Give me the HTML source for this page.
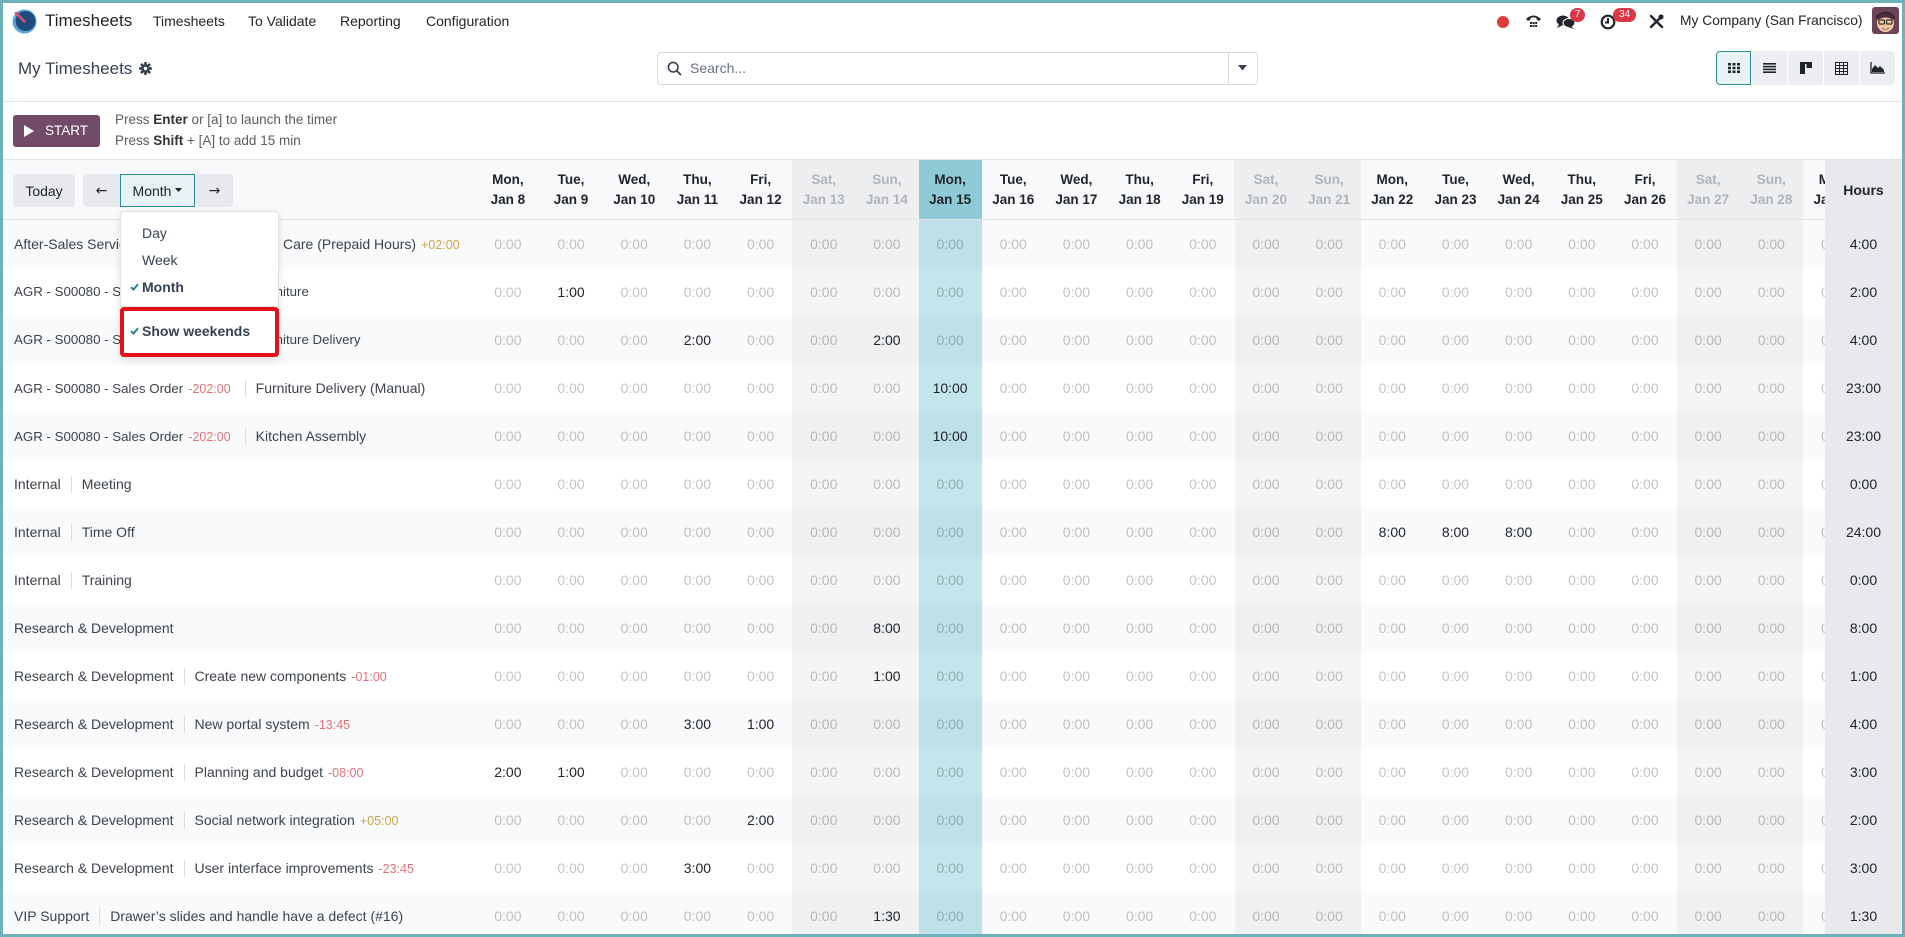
<!DOCTYPE html>
<html><head><meta charset="utf-8">
<style>
*{box-sizing:border-box;margin:0;padding:0}
html,body{width:1905px;height:937px;overflow:hidden;background:#fff}
body{position:relative;font-family:"Liberation Sans",Arial,sans-serif;color:#374151}
.a{position:absolute}
.frame{position:absolute;left:0;top:0;width:1905px;height:937px;border:3px solid #6cb2b8;z-index:100;pointer-events:none}
.nav{font-size:14px;color:#212529;top:12px;line-height:18px}
.badge{position:absolute;background:#dc3545;color:#fff;font-size:10px;line-height:14px;height:14px;border-radius:7px;text-align:center}
.vbtn{position:absolute;top:51px;height:34px;width:35px;background:#eceef1;display:flex;align-items:center;justify-content:center}
.btn{position:absolute;top:174px;height:33px;background:#e7e9ed;color:#212529;font-size:14px;display:flex;align-items:center;justify-content:center}
.hdr{position:absolute;left:476.3px;top:160px;height:59px;display:flex}
.hc{width:63.18px;flex:none;text-align:center;font-size:13.5px;font-weight:bold;color:#212529;line-height:20px;padding-top:9.5px;background:#f8f9fa}
.hc.we{background:#eceef0;color:#b1b5ba}
.hc.td{background:#8ecbd6}
.rowbg{position:absolute;left:0;width:1905px;height:48px}
.odd{background:#f9fafb}
.ovl{position:absolute;top:219px;height:718px;width:63.18px}
.we2{background:rgba(20,20,40,0.045)}
.td2{background:rgba(40,160,185,0.28)}
.r{position:absolute;left:476.3px;height:48px;display:flex}
.r span{width:63.18px;flex:none;text-align:center;line-height:48px;font-size:14px;color:rgba(0,0,0,0.24)}
.r span.v{color:#212529}
.lbl{position:absolute;left:14px;height:48px;line-height:48px;font-size:14px;color:#3d434a;white-space:nowrap}
.lbl.agr{font-size:13.3px}
.sep{display:inline-block;width:1px;height:17px;background:#d9dbde;margin:0 10px;vertical-align:middle;position:relative;top:-1px}
.neg{color:#df7379;font-size:12.5px;margin-left:5px}
.pos{color:#cfa44a;font-size:12.5px;margin-left:5px}
.hours{position:absolute;left:1825px;top:160px;width:80px;height:777px;background:#e8e9ec;z-index:5}
.hv{position:absolute;left:0;width:77px;text-align:center;font-size:14px;color:#212529;line-height:48px;height:48px}
.dd{position:absolute;left:120px;top:211px;width:159px;height:146px;background:#fff;border:1px solid #dfe2e6;border-radius:4px;box-shadow:0 3px 8px rgba(0,0,0,0.12);z-index:20}
.di{position:absolute;left:21px;font-size:14px;color:#374151;line-height:20px}
.chk{position:absolute;left:9px}
</style></head><body>
<div class="frame"></div>

<!-- Navbar -->
<svg class="a" style="left:12px;top:9px" width="25" height="25" viewBox="0 0 25 25">
<circle cx="12.5" cy="12.5" r="12" fill="#5aa3d6"/>
<circle cx="13.5" cy="12" r="10" fill="#1e4d7b"/>
<line x1="12.5" y1="12.5" x2="4" y2="4" stroke="#e8496b" stroke-width="2.5" stroke-linecap="round"/>
</svg>
<div class="a" style="left:45px;top:10px;font-size:17px;color:#212529;line-height:22px">Timesheets</div>
<div class="a nav" style="left:153px">Timesheets</div>
<div class="a nav" style="left:248px">To Validate</div>
<div class="a nav" style="left:340px">Reporting</div>
<div class="a nav" style="left:426px">Configuration</div>

<div class="a" style="left:1497px;top:16px;width:12px;height:12px;border-radius:6px;background:#dc3c3c"></div>
<svg class="a" style="left:1525px;top:13px" width="17" height="17" viewBox="0 0 17 17">
<path d="M1 6 Q8.5 -1 16 6 L14 8 L11.5 6.5 L11.5 5 Q8.5 3.5 5.5 5 L5.5 6.5 L3 8 Z" fill="#212529"/>
<rect x="5" y="9" width="2" height="2" fill="#212529"/><rect x="7.6" y="9" width="2" height="2" fill="#212529"/><rect x="10.2" y="9" width="2" height="2" fill="#212529"/>
<rect x="5" y="12" width="2" height="2" fill="#212529"/><rect x="7.6" y="12" width="2" height="2" fill="#212529"/><rect x="10.2" y="12" width="2" height="2" fill="#212529"/>
</svg>
<svg class="a" style="left:1556px;top:14px" width="20" height="16" viewBox="0 0 20 16">
<ellipse cx="7" cy="6.5" rx="6.5" ry="5" fill="#212529"/><path d="M3 10 L1 14 L7 11 Z" fill="#212529"/>
<ellipse cx="13" cy="9" rx="6" ry="4.5" fill="#212529" stroke="#fff" stroke-width="1"/><path d="M15 12 L18 15 L12 13 Z" fill="#212529"/>
</svg>
<div class="badge" style="left:1570px;top:8px;width:15px">7</div>
<svg class="a" style="left:1600px;top:14px" width="16" height="16" viewBox="0 0 16 16">
<circle cx="8" cy="8" r="6.3" fill="none" stroke="#212529" stroke-width="2.2"/><path d="M8 4 V8.5 H5" fill="none" stroke="#212529" stroke-width="2"/>
</svg>
<div class="badge" style="left:1613px;top:8px;width:23px">34</div>
<svg class="a" style="left:1649px;top:14px" width="15" height="15" viewBox="0 0 15 15">
<path d="M2 2 L13 13" stroke="#212529" stroke-width="2.4" stroke-linecap="round"/>
<path d="M13 2 L2 13" stroke="#212529" stroke-width="2.4" stroke-linecap="round"/>
<circle cx="12" cy="3" r="2.5" fill="#212529"/>
</svg>
<div class="a" style="left:1680px;top:12px;font-size:13.8px;color:#212529;line-height:18px">My Company (San Francisco)</div>
<svg class="a" style="left:1872px;top:7px" width="27" height="27" viewBox="0 0 27 27">
<rect width="27" height="27" rx="3" fill="#6d4457"/>
<path d="M4 9 Q13.5 0 23 9 L23 12 L4 12 Z" fill="#3a2430"/>
<ellipse cx="13.5" cy="16" rx="8.5" ry="9" fill="#f2c9a0"/>
<path d="M5 10 Q13.5 3 22 10 L21 13 Q13.5 8 6 13 Z" fill="#4a2e3b"/>
<rect x="7" y="13" width="5.5" height="4" rx="1" fill="none" stroke="#333" stroke-width="1.2"/>
<rect x="14.5" y="13" width="5.5" height="4" rx="1" fill="none" stroke="#333" stroke-width="1.2"/>
<path d="M10 21 Q13.5 23.5 17 21" fill="#fff" stroke="#8a3b3b" stroke-width="0.8"/>
</svg>

<!-- Control panel -->
<div class="a" style="left:18px;top:58px;font-size:17px;color:#374151;line-height:22px">My Timesheets</div>
<svg class="a" style="left:139px;top:62px" width="13" height="13" viewBox="0 0 13 13">
<g fill="#374151"><circle cx="6.5" cy="6.5" r="4.3"/>
<rect x="5.2" y="0" width="2.6" height="13" rx="0.6"/>
<rect x="0" y="5.2" width="13" height="2.6" rx="0.6"/>
<rect x="5.2" y="0" width="2.6" height="13" rx="0.6" transform="rotate(45 6.5 6.5)"/>
<rect x="5.2" y="0" width="2.6" height="13" rx="0.6" transform="rotate(-45 6.5 6.5)"/></g>
<circle cx="6.5" cy="6.5" r="1.7" fill="#fff"/>
</svg>

<div class="a" style="left:657px;top:52px;width:601px;height:33px;border:1px solid #d8dadd;border-radius:4px"></div>
<div class="a" style="left:1228px;top:53px;width:1px;height:31px;background:#d8dadd"></div>
<svg class="a" style="left:667px;top:61px" width="15" height="15" viewBox="0 0 15 15">
<circle cx="6.2" cy="6.2" r="4.8" fill="none" stroke="#374151" stroke-width="1.6"/><line x1="9.7" y1="9.7" x2="13.5" y2="13.5" stroke="#374151" stroke-width="1.8" stroke-linecap="round"/>
</svg>
<div class="a" style="left:690px;top:59px;font-size:14px;color:#6c737d;line-height:18px">Search...</div>
<svg class="a" style="left:1238px;top:65px" width="9" height="6" viewBox="0 0 9 6"><path d="M0 0 H9 L4.5 5.5 Z" fill="#374151"/></svg>

<div class="vbtn" style="left:1716px;background:#e8f3f4;border:1px solid #2a8b93;border-radius:4px 0 0 4px">
<svg width="12" height="10" viewBox="0 0 12 10"><g fill="#212529"><rect x="0" y="0" width="3" height="2.5"/><rect x="4.5" y="0" width="3" height="2.5"/><rect x="9" y="0" width="3" height="2.5"/><rect x="0" y="3.75" width="3" height="2.5"/><rect x="4.5" y="3.75" width="3" height="2.5"/><rect x="9" y="3.75" width="3" height="2.5"/><rect x="0" y="7.5" width="3" height="2.5"/><rect x="4.5" y="7.5" width="3" height="2.5"/><rect x="9" y="7.5" width="3" height="2.5"/></g></svg></div>
<div class="vbtn" style="left:1752px">
<svg width="13" height="10" viewBox="0 0 13 10"><g fill="#212529"><rect y="0" width="13" height="1.6"/><rect y="2.8" width="13" height="1.6"/><rect y="5.6" width="13" height="1.6"/><rect y="8.4" width="13" height="1.6"/></g></svg></div>
<div class="vbtn" style="left:1788px">
<svg width="12" height="12" viewBox="0 0 12 12"><g fill="#212529"><rect x="0" y="0" width="5" height="12"/><rect x="5" y="0" width="7" height="2"/><rect x="6.5" y="0" width="5.5" height="6"/></g></svg></div>
<div class="vbtn" style="left:1824px">
<svg width="13" height="13" viewBox="0 0 13 13"><g fill="none" stroke="#212529" stroke-width="1"><rect x="0.5" y="0.5" width="12" height="12"/><line x1="0.5" y1="3.5" x2="12.5" y2="3.5"/><line x1="0.5" y1="6.5" x2="12.5" y2="6.5"/><line x1="0.5" y1="9.5" x2="12.5" y2="9.5"/><line x1="4.5" y1="0.5" x2="4.5" y2="12.5"/><line x1="8.5" y1="0.5" x2="8.5" y2="12.5"/></g></svg></div>
<div class="vbtn" style="left:1860px;width:35px;border-radius:0 4px 4px 0">
<svg width="15" height="12" viewBox="0 0 15 12"><path d="M1 0 V11 H15" fill="none" stroke="#212529" stroke-width="1.3"/><path d="M2 10 L2 7 L5 3 L8 6 L10 4 L14 8 L14 10 Z" fill="#212529"/></svg></div>

<div class="a" style="left:0;top:101px;width:1905px;height:1px;background:#e0e3e6"></div>

<!-- Timer -->
<div class="a" style="left:13px;top:115px;width:87px;height:32px;background:#714b67;border-radius:3px;color:#fff;font-size:13.5px;line-height:32px">
<svg class="a" style="left:11px;top:10px" width="10" height="12" viewBox="0 0 10 12"><path d="M0 0 L10 6 L0 12 Z" fill="#fff"/></svg>
<span class="a" style="left:32px;top:0">START</span></div>
<div class="a" style="left:115px;top:110px;font-size:13.5px;line-height:20px;color:#5c5c5c">Press <b style="color:#333">Enter</b> or [a] to launch the timer</div>
<div class="a" style="left:115px;top:131px;font-size:13.5px;line-height:20px;color:#5c5c5c">Press <b style="color:#333">Shift</b> + [A] to add 15 min</div>

<!-- Grid header background -->
<div class="a" style="left:0;top:159px;width:1905px;height:61px;background:#f8f9fa;border-top:1px solid #e2e5e8;border-bottom:1px solid #e2e5e8"></div>

<div class="btn" style="left:13px;width:62px;border-radius:4px">Today</div>
<div class="btn" style="left:83px;width:37px;border-radius:4px 0 0 4px;font-family:'DejaVu Sans',sans-serif;font-size:14px">←</div>
<div class="btn" style="left:120px;width:75px;background:#e6f2f3;border:1px solid #2a8b93">Month<svg style="margin-left:4px" width="7" height="5" viewBox="0 0 7 5"><path d="M0 0 H7 L3.5 4 Z" fill="#212529"/></svg></div>
<div class="btn" style="left:196px;width:37px;border-radius:0 4px 4px 0;font-family:'DejaVu Sans',sans-serif;font-size:14px">→</div>

<!-- Row backgrounds -->
<div class="rowbg odd" style="top:220px"></div>
<div class="rowbg" style="top:268px"></div>
<div class="rowbg odd" style="top:316px"></div>
<div class="rowbg" style="top:364px"></div>
<div class="rowbg odd" style="top:412px"></div>
<div class="rowbg" style="top:460px"></div>
<div class="rowbg odd" style="top:508px"></div>
<div class="rowbg" style="top:556px"></div>
<div class="rowbg odd" style="top:604px"></div>
<div class="rowbg" style="top:652px"></div>
<div class="rowbg odd" style="top:700px"></div>
<div class="rowbg" style="top:748px"></div>
<div class="rowbg odd" style="top:796px"></div>
<div class="rowbg" style="top:844px"></div>
<div class="rowbg odd" style="top:892px"></div>

<!-- Column overlays -->
<div class="ovl we2" style="left:792.2px;top:220px"></div>
<div class="ovl we2" style="left:855.4px;top:220px"></div>
<div class="ovl td2" style="left:918.6px;top:220px"></div>
<div class="ovl we2" style="left:1234.5px;top:220px"></div>
<div class="ovl we2" style="left:1297.6px;top:220px"></div>
<div class="ovl we2" style="left:1676.7px;top:220px"></div>
<div class="ovl we2" style="left:1739.9px;top:220px"></div>

<!-- Header dates -->
<div class="hdr">
<div class="hc">Mon,<br>Jan 8</div><div class="hc">Tue,<br>Jan 9</div><div class="hc">Wed,<br>Jan 10</div><div class="hc">Thu,<br>Jan 11</div><div class="hc">Fri,<br>Jan 12</div><div class="hc we">Sat,<br>Jan 13</div><div class="hc we">Sun,<br>Jan 14</div><div class="hc td">Mon,<br>Jan 15</div><div class="hc">Tue,<br>Jan 16</div><div class="hc">Wed,<br>Jan 17</div><div class="hc">Thu,<br>Jan 18</div><div class="hc">Fri,<br>Jan 19</div><div class="hc we">Sat,<br>Jan 20</div><div class="hc we">Sun,<br>Jan 21</div><div class="hc">Mon,<br>Jan 22</div><div class="hc">Tue,<br>Jan 23</div><div class="hc">Wed,<br>Jan 24</div><div class="hc">Thu,<br>Jan 25</div><div class="hc">Fri,<br>Jan 26</div><div class="hc we">Sat,<br>Jan 27</div><div class="hc we">Sun,<br>Jan 28</div><div class="hc">Mon,<br>Jan 29</div>
</div>

<!-- Row labels -->
<div class="lbl" style="top:220px">After-Sales Services<span class="sep"></span>Field</div>
<div class="lbl" style="top:220px;left:283px">Care (Prepaid Hours)<span class="pos">+02:00</span></div>
<div class="lbl agr" style="top:268px">AGR - S00080 - Sales Order<span class="neg">-202:00</span><span class="sep" style="margin-left:14px"></span>Furniture</div>
<div class="lbl agr" style="top:316px">AGR - S00080 - Sales Order<span class="neg">-202:00</span><span class="sep" style="margin-left:14px"></span>Furniture Delivery</div>
<div class="lbl agr" style="top:364px">AGR - S00080 - Sales Order<span class="neg">-202:00</span><span class="sep" style="margin-left:14px"></span><span style="font-size:14px">Furniture Delivery (Manual)</span></div>
<div class="lbl agr" style="top:412px">AGR - S00080 - Sales Order<span class="neg">-202:00</span><span class="sep" style="margin-left:14px"></span><span style="font-size:14px">Kitchen Assembly</span></div>
<div class="lbl" style="top:460px">Internal<span class="sep"></span>Meeting</div>
<div class="lbl" style="top:508px">Internal<span class="sep"></span>Time Off</div>
<div class="lbl" style="top:556px">Internal<span class="sep"></span>Training</div>
<div class="lbl" style="top:604px">Research &amp; Development</div>
<div class="lbl" style="top:652px">Research &amp; Development<span class="sep"></span>Create new components<span class="neg">-01:00</span></div>
<div class="lbl" style="top:700px">Research &amp; Development<span class="sep"></span>New portal system<span class="neg">-13:45</span></div>
<div class="lbl" style="top:748px">Research &amp; Development<span class="sep"></span>Planning and budget<span class="neg">-08:00</span></div>
<div class="lbl" style="top:796px">Research &amp; Development<span class="sep"></span>Social network integration<span class="pos">+05:00</span></div>
<div class="lbl" style="top:844px">Research &amp; Development<span class="sep"></span>User interface improvements<span class="neg">-23:45</span></div>
<div class="lbl" style="top:892px">VIP Support<span class="sep"></span>Drawer’s slides and handle have a defect (#16)</div>

<!-- Row cells -->
<div class="r" style="top:220px"><span>0:00</span><span>0:00</span><span>0:00</span><span>0:00</span><span>0:00</span><span>0:00</span><span>0:00</span><span>0:00</span><span>0:00</span><span>0:00</span><span>0:00</span><span>0:00</span><span>0:00</span><span>0:00</span><span>0:00</span><span>0:00</span><span>0:00</span><span>0:00</span><span>0:00</span><span>0:00</span><span>0:00</span><span>0:00</span></div>
<div class="r" style="top:268px"><span>0:00</span><span class="v">1:00</span><span>0:00</span><span>0:00</span><span>0:00</span><span>0:00</span><span>0:00</span><span>0:00</span><span>0:00</span><span>0:00</span><span>0:00</span><span>0:00</span><span>0:00</span><span>0:00</span><span>0:00</span><span>0:00</span><span>0:00</span><span>0:00</span><span>0:00</span><span>0:00</span><span>0:00</span><span>0:00</span></div>
<div class="r" style="top:316px"><span>0:00</span><span>0:00</span><span>0:00</span><span class="v">2:00</span><span>0:00</span><span>0:00</span><span class="v">2:00</span><span>0:00</span><span>0:00</span><span>0:00</span><span>0:00</span><span>0:00</span><span>0:00</span><span>0:00</span><span>0:00</span><span>0:00</span><span>0:00</span><span>0:00</span><span>0:00</span><span>0:00</span><span>0:00</span><span>0:00</span></div>
<div class="r" style="top:364px"><span>0:00</span><span>0:00</span><span>0:00</span><span>0:00</span><span>0:00</span><span>0:00</span><span>0:00</span><span class="v">10:00</span><span>0:00</span><span>0:00</span><span>0:00</span><span>0:00</span><span>0:00</span><span>0:00</span><span>0:00</span><span>0:00</span><span>0:00</span><span>0:00</span><span>0:00</span><span>0:00</span><span>0:00</span><span>0:00</span></div>
<div class="r" style="top:412px"><span>0:00</span><span>0:00</span><span>0:00</span><span>0:00</span><span>0:00</span><span>0:00</span><span>0:00</span><span class="v">10:00</span><span>0:00</span><span>0:00</span><span>0:00</span><span>0:00</span><span>0:00</span><span>0:00</span><span>0:00</span><span>0:00</span><span>0:00</span><span>0:00</span><span>0:00</span><span>0:00</span><span>0:00</span><span>0:00</span></div>
<div class="r" style="top:460px"><span>0:00</span><span>0:00</span><span>0:00</span><span>0:00</span><span>0:00</span><span>0:00</span><span>0:00</span><span>0:00</span><span>0:00</span><span>0:00</span><span>0:00</span><span>0:00</span><span>0:00</span><span>0:00</span><span>0:00</span><span>0:00</span><span>0:00</span><span>0:00</span><span>0:00</span><span>0:00</span><span>0:00</span><span>0:00</span></div>
<div class="r" style="top:508px"><span>0:00</span><span>0:00</span><span>0:00</span><span>0:00</span><span>0:00</span><span>0:00</span><span>0:00</span><span>0:00</span><span>0:00</span><span>0:00</span><span>0:00</span><span>0:00</span><span>0:00</span><span>0:00</span><span class="v">8:00</span><span class="v">8:00</span><span class="v">8:00</span><span>0:00</span><span>0:00</span><span>0:00</span><span>0:00</span><span>0:00</span></div>
<div class="r" style="top:556px"><span>0:00</span><span>0:00</span><span>0:00</span><span>0:00</span><span>0:00</span><span>0:00</span><span>0:00</span><span>0:00</span><span>0:00</span><span>0:00</span><span>0:00</span><span>0:00</span><span>0:00</span><span>0:00</span><span>0:00</span><span>0:00</span><span>0:00</span><span>0:00</span><span>0:00</span><span>0:00</span><span>0:00</span><span>0:00</span></div>
<div class="r" style="top:604px"><span>0:00</span><span>0:00</span><span>0:00</span><span>0:00</span><span>0:00</span><span>0:00</span><span class="v">8:00</span><span>0:00</span><span>0:00</span><span>0:00</span><span>0:00</span><span>0:00</span><span>0:00</span><span>0:00</span><span>0:00</span><span>0:00</span><span>0:00</span><span>0:00</span><span>0:00</span><span>0:00</span><span>0:00</span><span>0:00</span></div>
<div class="r" style="top:652px"><span>0:00</span><span>0:00</span><span>0:00</span><span>0:00</span><span>0:00</span><span>0:00</span><span class="v">1:00</span><span>0:00</span><span>0:00</span><span>0:00</span><span>0:00</span><span>0:00</span><span>0:00</span><span>0:00</span><span>0:00</span><span>0:00</span><span>0:00</span><span>0:00</span><span>0:00</span><span>0:00</span><span>0:00</span><span>0:00</span></div>
<div class="r" style="top:700px"><span>0:00</span><span>0:00</span><span>0:00</span><span class="v">3:00</span><span class="v">1:00</span><span>0:00</span><span>0:00</span><span>0:00</span><span>0:00</span><span>0:00</span><span>0:00</span><span>0:00</span><span>0:00</span><span>0:00</span><span>0:00</span><span>0:00</span><span>0:00</span><span>0:00</span><span>0:00</span><span>0:00</span><span>0:00</span><span>0:00</span></div>
<div class="r" style="top:748px"><span class="v">2:00</span><span class="v">1:00</span><span>0:00</span><span>0:00</span><span>0:00</span><span>0:00</span><span>0:00</span><span>0:00</span><span>0:00</span><span>0:00</span><span>0:00</span><span>0:00</span><span>0:00</span><span>0:00</span><span>0:00</span><span>0:00</span><span>0:00</span><span>0:00</span><span>0:00</span><span>0:00</span><span>0:00</span><span>0:00</span></div>
<div class="r" style="top:796px"><span>0:00</span><span>0:00</span><span>0:00</span><span>0:00</span><span class="v">2:00</span><span>0:00</span><span>0:00</span><span>0:00</span><span>0:00</span><span>0:00</span><span>0:00</span><span>0:00</span><span>0:00</span><span>0:00</span><span>0:00</span><span>0:00</span><span>0:00</span><span>0:00</span><span>0:00</span><span>0:00</span><span>0:00</span><span>0:00</span></div>
<div class="r" style="top:844px"><span>0:00</span><span>0:00</span><span>0:00</span><span class="v">3:00</span><span>0:00</span><span>0:00</span><span>0:00</span><span>0:00</span><span>0:00</span><span>0:00</span><span>0:00</span><span>0:00</span><span>0:00</span><span>0:00</span><span>0:00</span><span>0:00</span><span>0:00</span><span>0:00</span><span>0:00</span><span>0:00</span><span>0:00</span><span>0:00</span></div>
<div class="r" style="top:892px"><span>0:00</span><span>0:00</span><span>0:00</span><span>0:00</span><span>0:00</span><span>0:00</span><span class="v">1:30</span><span>0:00</span><span>0:00</span><span>0:00</span><span>0:00</span><span>0:00</span><span>0:00</span><span>0:00</span><span>0:00</span><span>0:00</span><span>0:00</span><span>0:00</span><span>0:00</span><span>0:00</span><span>0:00</span><span>0:00</span></div>

<!-- Hours column -->
<div class="hours">
<div class="hv" style="top:6px;font-weight:bold;font-size:14px">Hours</div>
<div class="hv" style="top:60px">4:00</div>
<div class="hv" style="top:108px">2:00</div>
<div class="hv" style="top:156px">4:00</div>
<div class="hv" style="top:204px">23:00</div>
<div class="hv" style="top:252px">23:00</div>
<div class="hv" style="top:300px">0:00</div>
<div class="hv" style="top:348px">24:00</div>
<div class="hv" style="top:396px">0:00</div>
<div class="hv" style="top:444px">8:00</div>
<div class="hv" style="top:492px">1:00</div>
<div class="hv" style="top:540px">4:00</div>
<div class="hv" style="top:588px">3:00</div>
<div class="hv" style="top:636px">2:00</div>
<div class="hv" style="top:684px">3:00</div>
<div class="hv" style="top:732px">1:30</div>
</div>

<!-- Dropdown -->
<div class="dd">
<div class="di" style="top:11px">Day</div>
<div class="di" style="top:38px">Week</div>
<svg class="chk" style="top:71px" width="9" height="8" viewBox="0 0 9 8"><path d="M1 4.2 L3.5 6.5 L8 1.2" fill="none" stroke="#1f7f8c" stroke-width="1.9"/></svg>
<div class="di" style="top:65px;font-weight:bold">Month</div>
<div class="a" style="left:0;top:94px;width:157px;height:1px;background:#e3e6e9"></div>
<svg class="chk" style="top:115px" width="9" height="8" viewBox="0 0 9 8"><path d="M1 4.2 L3.5 6.5 L8 1.2" fill="none" stroke="#1f7f8c" stroke-width="1.9"/></svg>
<div class="di" style="top:109px;font-weight:bold">Show weekends</div>
</div>
<div class="a" style="left:120px;top:307px;width:159px;height:50px;border:4px solid #e3101c;border-radius:4px;z-index:21"></div>

</body></html>
